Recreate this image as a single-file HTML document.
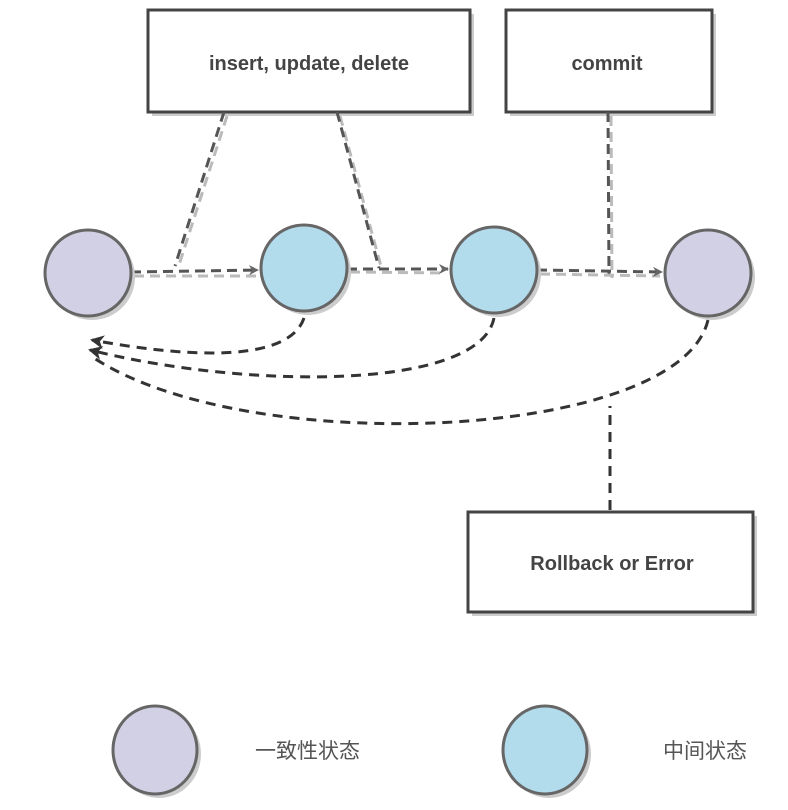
<!DOCTYPE html>
<html><head><meta charset="utf-8"><style>
html,body{margin:0;padding:0;background:#fff;}
svg{display:block;}
text{font-family:"Liberation Sans","Noto Sans CJK SC",sans-serif;}
</style></head><body>
<svg width="788" height="810" viewBox="0 0 788 810" xmlns="http://www.w3.org/2000/svg">
<defs>
<marker id="ah" markerWidth="10" markerHeight="10" refX="9" refY="5" orient="auto" markerUnits="userSpaceOnUse" viewBox="0 0 10 10"><path d="M0,0 L10,5 L0,10 L3,5 Z" fill="#666"/></marker>
<marker id="ah2" markerWidth="14" markerHeight="14" refX="12" refY="7" orient="auto" markerUnits="userSpaceOnUse" viewBox="0 0 14 14"><path d="M0,0 L14,7 L0,14 L4,7 Z" fill="#333"/></marker>
</defs>
<!-- boxes shadows -->
<rect x="152" y="14" width="322" height="102" fill="#ccc"/>
<rect x="510" y="14" width="206" height="102" fill="#ccc"/>
<rect x="472" y="516" width="285" height="100" fill="#ccc"/>
<rect x="148" y="10" width="322" height="102" fill="#fff" stroke="#444" stroke-width="3"/>
<rect x="506" y="10" width="206" height="102" fill="#fff" stroke="#444" stroke-width="3"/>
<rect x="468" y="512" width="285" height="100" fill="#fff" stroke="#444" stroke-width="3"/>
<text x="309" y="70" text-anchor="middle" font-size="20" font-weight="bold" fill="#444">insert, update, delete</text>
<text x="607" y="70" text-anchor="middle" font-size="20" font-weight="bold" fill="#444">commit</text>
<text x="612" y="570" text-anchor="middle" font-size="20" font-weight="bold" fill="#444">Rollback or Error</text>
<!-- dashed connectors from boxes -->
<g fill="none" stroke-dasharray="10,6" stroke-width="3">
<path d="M227,116 L178,268" stroke="#bbb"/>
<path d="M224,112 L175,266" stroke="#555"/>
<path d="M340,116 L382,270" stroke="#bbb"/>
<path d="M337,112 L379,268" stroke="#555"/>
<path d="M611,116 L612,278" stroke="#bbb"/>
<path d="M608,112 L609,276" stroke="#555"/>
<path d="M134,276 L256,276" stroke="#bbb"/>
<path d="M131,272 L258,270" stroke="#555" marker-end="url(#ah)"/>
<path d="M350,272 L446,273" stroke="#bbb"/>
<path d="M347,269 L448,269" stroke="#555" marker-end="url(#ah)"/>
<path d="M540,274 L660,276" stroke="#bbb"/>
<path d="M537,270 L662,272" stroke="#555" marker-end="url(#ah)"/>
</g>
<!-- return arcs -->
<g fill="none" stroke="#333" stroke-dasharray="10,7" stroke-width="3">
<path d="M304,318 C290,360 200,360 92,340" marker-end="url(#ah2)"/>
<path d="M494,318 C480,390 250,390 90,350" marker-end="url(#ah2)"/>
<path d="M708,320 C680,440 250,460 94,358"/>
<path d="M610,510 L610,406"/>
</g>
<!-- circles -->
<g stroke="#666" stroke-width="3">
<circle cx="92" cy="277" r="43" fill="#ccc" stroke="none"/>
<circle cx="88" cy="273" r="43" fill="#d2d0e4"/>
<circle cx="308" cy="272" r="43" fill="#ccc" stroke="none"/>
<circle cx="304" cy="268" r="43" fill="#b2dbec"/>
<circle cx="498" cy="274" r="43" fill="#ccc" stroke="none"/>
<circle cx="494" cy="270" r="43" fill="#b2dbec"/>
<circle cx="712" cy="277" r="43" fill="#ccc" stroke="none"/>
<circle cx="708" cy="273" r="43" fill="#d2d0e4"/>
<ellipse cx="159" cy="754" rx="42" ry="44" fill="#ccc" stroke="none"/>
<ellipse cx="155" cy="750" rx="42" ry="44" fill="#d2d0e4"/>
<ellipse cx="549" cy="754" rx="42" ry="44" fill="#ccc" stroke="none"/>
<ellipse cx="545" cy="750" rx="42" ry="44" fill="#b2dbec"/>
</g>
<text x="255" y="758" font-size="21" fill="#555">一致性状态</text>
<text x="663" y="758" font-size="21" fill="#555">中间状态</text>
</svg>
</body></html>
